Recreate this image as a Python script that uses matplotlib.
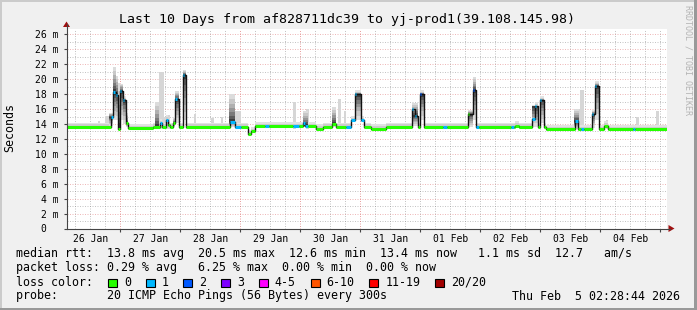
import matplotlib
matplotlib.use("Agg")
import matplotlib.pyplot as plt
from matplotlib.patches import Rectangle, Polygon
from matplotlib.lines import Line2D

# --- DATA (x in hours since graph start, y in milliseconds) ---
# graph start: Mon Jan 26 02:28:44 2026, 10 days shown
SPAN_H = 240
day_labels = ["26 Jan", "27 Jan", "28 Jan", "29 Jan", "30 Jan",
              "31 Jan", "01 Feb", "02 Feb", "03 Feb", "04 Feb"]
first_midnight_h = 21.52  # 27 Jan 00:00

# baseline of the median rtt
base_edges = [0, 24.4, 34.4, 72.4, 73.6, 75.2, 99.6, 102.4, 121.6, 127.6, 191.6, 240]
base_ms = [13.6, 13.45, 13.6, 12.6, 13.0, 13.7, 13.4, 13.6, 13.4, 13.6, 13.3]

# median excursions: start, end, value, loss bucket
spk_start = [17.6, 18.6, 19.6, 20.4, 21.2, 22.4, 23.6, 37.2, 39.6, 40.4, 42.4, 43.4, 46.4,
             65.2, 67.2, 79.2, 90.4, 94.4, 95.2, 106.0, 111.6, 113.6, 115.2, 117.6,
             138.0, 139.2, 141.2, 150.4, 160.4, 162.4, 163.6, 177.6, 179.2,
             186.0, 187.2, 189.2, 203.2, 205.6, 210.0, 211.2, 214.8, 226.4]
spk_end = [18.6, 19.6, 20.4, 21.2, 22.4, 23.6, 24.4, 38.0, 40.4, 41.2, 43.4, 44.8, 47.6,
           67.2, 69.6, 80.8, 92.8, 95.2, 96.4, 107.6, 113.6, 115.2, 117.6, 118.8,
           139.2, 140.4, 142.8, 152.0, 162.4, 163.6, 164.8, 178.8, 180.8,
           187.2, 188.4, 190.8, 204.4, 206.8, 211.2, 212.8, 216.4, 227.2]
spk_ms = [14.9, 18.3, 17.9, 13.4, 18.4, 17.2, 14.1, 14.1, 14.6, 13.9, 14.1, 17.3, 20.6,
          14.3, 13.6, 13.7, 13.7, 14.1, 13.8, 14.0, 13.6, 14.5, 18.0, 14.5,
          16.0, 15.1, 18.0, 13.6, 15.3, 18.5, 13.6, 13.6, 13.8,
          14.7, 16.4, 17.2, 14.4, 13.3, 15.3, 19.1, 13.8, 13.3]
spk_loss = [1, 1, 1, 0, 1, 1, 0, 1, 1, 0, 0, 1, 1,
            1, 1, 1, 1, 1, 1, 0, 1, 1, 1, 1,
            1, 1, 2, 1, 0, 2, 1, 1, 0,
            1, 1, 1, 1, 1, 1, 1, 0, 1]

# dense smoke around the excursions
smk_start = [16.8, 18.6, 19.6, 20.4, 21.2, 22.4, 23.6, 35.2, 42.4, 43.4, 46.4, 64.8,
             94.4, 106.0, 115.2, 138.0, 141.2, 160.4, 162.4, 186.0, 189.2, 202.8, 210.0, 211.2]
smk_end = [18.6, 19.6, 20.4, 21.2, 22.4, 23.6, 24.4, 36.8, 43.4, 44.8, 47.6, 67.2,
           96.4, 107.6, 117.6, 140.4, 142.8, 162.4, 163.6, 188.4, 190.8, 204.8, 211.2, 212.8]
smk_lo = [13.8, 14.5, 14.5, 13.5, 14.5, 14.0, 13.6, 13.6, 13.6, 14.2, 14.5, 13.6,
          13.6, 13.6, 14.5, 13.8, 14.5, 13.6, 14.5, 13.6, 14.2, 13.4, 13.5, 14.5]
smk_hi = [15.5, 21.7, 20.5, 19.5, 19.4, 17.5, 15.5, 17.0, 14.8, 18.4, 21.2, 18.0,
          15.8, 16.3, 18.3, 16.8, 18.3, 15.8, 20.3, 16.5, 17.4, 16.0, 15.8, 19.6]

# single outlier pings (light smoke)
lt_start = [12.4, 15.2, 36.8, 38.8, 40.0, 50.8, 57.6, 61.6, 67.2, 90.4, 95.6, 108.4,
            110.8, 204.0, 205.2, 215.6, 227.6, 235.6]
lt_end = [13.2, 16.8, 38.8, 40.0, 41.2, 51.6, 58.8, 62.4, 69.6, 91.6, 96.8, 109.6,
          111.6, 205.6, 206.8, 216.4, 228.8, 236.8]
lt_top = [14.4, 15.1, 21.0, 15.0, 15.2, 15.4, 14.8, 15.0, 15.8, 16.9, 16.0, 17.3,
          15.8, 16.0, 18.5, 14.5, 15.0, 15.7]

loss_labels = ["0", "1", "2", "3", "4-5", "6-10", "11-19", "20/20"]
loss_colors = ["#26ff00", "#00b8ff", "#0059ff", "#7e00ff", "#ff00ff", "#ff5500", "#ff0000", "#a10000"]

title = "Last 10 Days from af828711dc39 to yj-prod1(39.108.145.98)"
legend_lines = [
    "median rtt:  13.8 ms avg  20.5 ms max  12.6 ms min  13.4 ms now   1.1 ms sd  12.7   am/s",
    "packet loss: 0.29 % avg   6.25 % max  0.00 % min  0.00 % now",
    "loss color:",
    "probe:       20 ICMP Echo Pings (56 Bytes) every 300s",
]
stamp = "Thu Feb  5 02:28:44 2026"

# --- FIGURE ---
W, H = 697, 310
plt.rcParams["font.family"] = "DejaVu Sans Mono"
fig = plt.figure(figsize=(W / 100, H / 100), dpi=100, facecolor="#f0f0f0")


def fx(x):
    return x / W


def fy(y):
    return 1 - y / H


ax = fig.add_axes([fx(66.5), fy(228.5), 600 / W, 200 / H])
ax.set_facecolor("white")
ax.set_xlim(0, SPAN_H)
ax.set_ylim(0, 26.8)
for s in ax.spines.values():
    s.set_visible(False)

# grid
red_grid = (0.85, 0.35, 0.35, 0.42)
gray_grid = (0.55, 0.55, 0.55, 0.5)
for v in range(1, 27):
    ax.axhline(v, color=red_grid if v % 2 == 0 else gray_grid, lw=0.72, ls=(0, (1, 1.5)), zorder=0)
t = first_midnight_h - 24
while t <= SPAN_H:
    if t > 0:
        major = abs((t - first_midnight_h) % 24) < 0.01
        ax.axvline(t, color=(0.85, 0.35, 0.35, 0.55) if major else gray_grid,
                   lw=0.72, ls=(0, (1, 1.5)), zorder=0)
    t += 6

# median path (baseline with excursions cut in)
edges = sorted(set(base_edges + spk_start + spk_end))
seg_a, seg_b, seg_v, seg_c, seg_base = [], [], [], [], []
for a, b in zip(edges[:-1], edges[1:]):
    mid = (a + b) / 2
    bv = next(base_ms[i] for i in range(len(base_ms)) if base_edges[i] <= mid < base_edges[i + 1])
    v, c = bv, 0
    for s, e, m, l in zip(spk_start, spk_end, spk_ms, spk_loss):
        if s <= mid < e:
            v, c = m, l
    seg_a.append(a); seg_b.append(b); seg_v.append(v); seg_c.append(c); seg_base.append(bv)

# light outliers
for s, e, top in zip(lt_start, lt_end, lt_top):
    ax.fill_between([s, e], 13.4, top, color="#d6d6d6", lw=0, zorder=1)

# everyday smoke around the median
xs = seg_a + [seg_b[-1]]
vs = seg_v + [seg_v[-1]]
ax.fill_between(xs, [v - 0.2 for v in vs], [v + 0.6 for v in vs], step="post",
                color="#e2e2e2", lw=0, zorder=2)
ax.fill_between(xs, [v - 0.1 for v in vs], [v + 0.35 for v in vs], step="post",
                color="#cdcdcd", lw=0, zorder=2)

# dense smoke with gradient towards the median
fracs = [1.0, 0.82, 0.66, 0.5, 0.36, 0.22, 0.1]
grays = ["#dcdcdc", "#c8c8c8", "#b0b0b0", "#969696", "#7a7a7a", "#5c5c5c", "#3c3c3c"]
for s, e, lo, hi in zip(smk_start, smk_end, smk_lo, smk_hi):
    mid = (s + e) / 2
    c = next(seg_v[i] for i in range(len(seg_v)) if seg_a[i] <= mid < seg_b[i])
    c = min(max(c, lo), hi)
    for f, g in zip(fracs, grays):
        ax.fill_between([s, e], c - (c - lo) * f, c + (hi - c) * f, color=g, lw=0, zorder=3)

# black median step line then loss coloured pieces
ax.step(xs, vs, where="post", color="#111111", lw=1.0, zorder=4)
for a, b, v, c, bv in zip(seg_a, seg_b, seg_v, seg_c, seg_base):
    end = b if v - bv < 1.5 else min(b, a + 0.6)
    ax.hlines(v, a, end, color=loss_colors[c], lw=2.2, capstyle="butt", zorder=5)

# ticks
yt = list(range(0, 27, 2))
ax.set_yticks(yt, ["0  "] + [f"{v} m" for v in yt[1:]])
ax.tick_params(axis="y", length=2.5, width=0.8, pad=3, labelsize=7, color="#444444")
noons = [first_midnight_h - 12 + 24 * i for i in range(10)]
ax.set_xticks(noons, day_labels)
ax.set_xticks([first_midnight_h + 24 * i for i in range(10)], minor=True)
ax.tick_params(axis="x", which="major", length=0, pad=4, labelsize=7)
ax.tick_params(axis="x", which="minor", length=2.5, width=0.8, color="#444444")

# axes with arrows
fig.add_artist(Line2D([fx(66.5), fx(66.5)], [fy(228.5), fy(24)], color="#444444", lw=0.8))
fig.add_artist(Line2D([fx(66.5), fx(670)], [fy(228.5), fy(228.5)], color="#444444", lw=0.8))
fig.add_artist(Polygon([(fx(66.5), fy(21.5)), (fx(63), fy(27)), (fx(70), fy(27))],
                       closed=True, color="#a01010", lw=0))
fig.add_artist(Polygon([(fx(674.5), fy(228.5)), (fx(668.5), fy(225)), (fx(668.5), fy(232))],
                       closed=True, color="#a01010", lw=0))

# texts
fig.text(fx(347), fy(19), title, ha="center", va="center", fontsize=9.5)
fig.text(fx(10), fy(128), "Seconds", rotation=90, ha="center", va="center", fontsize=8.4)
fig.text(fx(688), fy(5), "RRDTOOL / TOBI OETIKER", rotation=270, ha="center", va="top",
         fontsize=6, color="#b4b4b4")
for i, line in enumerate(legend_lines):
    fig.text(fx(16), fy(254 + 14 * i), line, ha="left", va="center", fontsize=8.4)
fig.text(fx(680.5), fy(296), stamp, ha="right", va="center", fontsize=8.4)

# loss colour legend boxes
x = 108
for lab, col in zip(loss_labels, loss_colors):
    fig.add_artist(Rectangle((fx(x), fy(287)), 9 / W, 8.5 / H, facecolor=col,
                             edgecolor="black", lw=0.8))
    fig.text(fx(x + 16), fy(282), lab, ha="left", va="center", fontsize=8.4)
    x = x + 16 + len(lab) * 7.02 + 14.7

# frame
fig.add_artist(Rectangle((0, 0), 1, 2 / H, color="#999999", lw=0))
fig.add_artist(Rectangle((1 - 3 / W, 0), 3 / W, 1, color="#999999", lw=0))
fig.add_artist(Rectangle((0, 1 - 2 / H), 1 - 3 / W, 2 / H, color="#cbcbcb", lw=0))
fig.add_artist(Rectangle((0, 2 / H), 2 / W, 1 - 4 / H, color="#cbcbcb", lw=0))

fig.savefig("out.png", dpi=100, facecolor=fig.get_facecolor())
